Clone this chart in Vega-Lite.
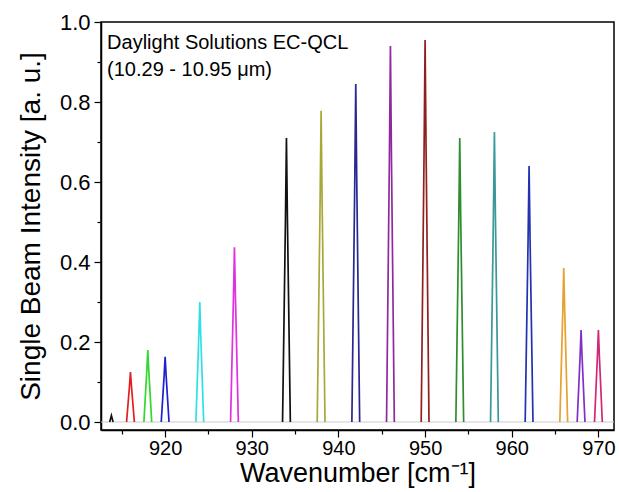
{
  "$schema": "https://vega.github.io/schema/vega-lite/v6.json",
  "width": 513,
  "height": 408,
  "autosize": {"type": "none"},
  "padding": {"left": 101, "top": 22, "right": 5, "bottom": 62},
  "background": "white",
  "config": {
    "view": {"stroke": "black", "strokeWidth": 1.5},
    "font": "Liberation Sans",
    "axis": {"domainColor": "black", "tickColor": "black", "labelColor": "black", "titleColor": "black", "grid": false, "domainWidth": 1.5, "tickWidth": 1.2, "titleFontWeight": "normal", "labelFont": "Liberation Sans", "titleFont": "Liberation Sans"}
  },
  "datasets": {
    "peaks": [
      {"s": "p914", "x": 913.6, "y": 0},
      {"s": "p914", "x": 913.8, "y": 0.016},
      {"s": "p914", "x": 914.0, "y": 0},
      {"s": "p916", "x": 915.55, "y": 0},
      {"s": "p916", "x": 915.88, "y": 0.088},
      {"s": "p916", "x": 916, "y": 0.125},
      {"s": "p916", "x": 916.12, "y": 0.088},
      {"s": "p916", "x": 916.45, "y": 0},
      {"s": "p918", "x": 917.55, "y": 0},
      {"s": "p918", "x": 917.88, "y": 0.126},
      {"s": "p918", "x": 918, "y": 0.18},
      {"s": "p918", "x": 918.12, "y": 0.126},
      {"s": "p918", "x": 918.45, "y": 0},
      {"s": "p920", "x": 919.55, "y": 0},
      {"s": "p920", "x": 919.88, "y": 0.114},
      {"s": "p920", "x": 920, "y": 0.163},
      {"s": "p920", "x": 920.12, "y": 0.114},
      {"s": "p920", "x": 920.45, "y": 0},
      {"s": "p924", "x": 923.55, "y": 0},
      {"s": "p924", "x": 923.88, "y": 0.21},
      {"s": "p924", "x": 924, "y": 0.30},
      {"s": "p924", "x": 924.12, "y": 0.21},
      {"s": "p924", "x": 924.45, "y": 0},
      {"s": "p928", "x": 927.55, "y": 0},
      {"s": "p928", "x": 927.88, "y": 0.306},
      {"s": "p928", "x": 928, "y": 0.437},
      {"s": "p928", "x": 928.12, "y": 0.306},
      {"s": "p928", "x": 928.45, "y": 0},
      {"s": "p934", "x": 933.55, "y": 0},
      {"s": "p934", "x": 933.88, "y": 0.497},
      {"s": "p934", "x": 934, "y": 0.71},
      {"s": "p934", "x": 934.12, "y": 0.497},
      {"s": "p934", "x": 934.45, "y": 0},
      {"s": "p938", "x": 937.55, "y": 0},
      {"s": "p938", "x": 937.88, "y": 0.545},
      {"s": "p938", "x": 938, "y": 0.778},
      {"s": "p938", "x": 938.12, "y": 0.545},
      {"s": "p938", "x": 938.45, "y": 0},
      {"s": "p942", "x": 941.55, "y": 0},
      {"s": "p942", "x": 941.88, "y": 0.592},
      {"s": "p942", "x": 942, "y": 0.845},
      {"s": "p942", "x": 942.12, "y": 0.592},
      {"s": "p942", "x": 942.45, "y": 0},
      {"s": "p946", "x": 945.55, "y": 0},
      {"s": "p946", "x": 945.88, "y": 0.658},
      {"s": "p946", "x": 946, "y": 0.94},
      {"s": "p946", "x": 946.12, "y": 0.658},
      {"s": "p946", "x": 946.45, "y": 0},
      {"s": "p950", "x": 949.55, "y": 0},
      {"s": "p950", "x": 949.88, "y": 0.669},
      {"s": "p950", "x": 950, "y": 0.955},
      {"s": "p950", "x": 950.12, "y": 0.669},
      {"s": "p950", "x": 950.45, "y": 0},
      {"s": "p954", "x": 953.55, "y": 0},
      {"s": "p954", "x": 953.88, "y": 0.497},
      {"s": "p954", "x": 954, "y": 0.71},
      {"s": "p954", "x": 954.12, "y": 0.497},
      {"s": "p954", "x": 954.45, "y": 0},
      {"s": "p958", "x": 957.55, "y": 0},
      {"s": "p958", "x": 957.88, "y": 0.508},
      {"s": "p958", "x": 958, "y": 0.725},
      {"s": "p958", "x": 958.12, "y": 0.508},
      {"s": "p958", "x": 958.45, "y": 0},
      {"s": "p962", "x": 961.55, "y": 0},
      {"s": "p962", "x": 961.88, "y": 0.448},
      {"s": "p962", "x": 962, "y": 0.64},
      {"s": "p962", "x": 962.12, "y": 0.448},
      {"s": "p962", "x": 962.45, "y": 0},
      {"s": "p966", "x": 965.55, "y": 0},
      {"s": "p966", "x": 965.88, "y": 0.27},
      {"s": "p966", "x": 966, "y": 0.385},
      {"s": "p966", "x": 966.12, "y": 0.27},
      {"s": "p966", "x": 966.45, "y": 0},
      {"s": "p968", "x": 967.55, "y": 0},
      {"s": "p968", "x": 967.88, "y": 0.161},
      {"s": "p968", "x": 968, "y": 0.23},
      {"s": "p968", "x": 968.12, "y": 0.161},
      {"s": "p968", "x": 968.45, "y": 0},
      {"s": "p970", "x": 969.55, "y": 0},
      {"s": "p970", "x": 969.88, "y": 0.161},
      {"s": "p970", "x": 970, "y": 0.23},
      {"s": "p970", "x": 970.12, "y": 0.161},
      {"s": "p970", "x": 970.45, "y": 0}
    ],
    "base": [
      {"x": 912.6, "y": 0},
      {"x": 971.8, "y": 0}
    ],
    "note": [
      {"x": 913.3, "y": 0.972, "t": "Daylight Solutions EC-QCL"},
      {"x": 913.3, "y": 0.905, "t": "(10.29 - 10.95 μm)"}
    ]
  },
  "layer": [
    {
      "data": {"name": "base"},
      "mark": {"type": "line", "color": "#cccccc", "strokeWidth": 1.2},
      "encoding": {
        "x": {"field": "x", "type": "quantitative", "scale": {"domain": [912.6, 971.8], "nice": false, "zero": false},
          "axis": {"orient": "bottom", "values": [915, 920, 925, 930, 935, 940, 945, 950, 955, 960, 965, 970],
            "labelExpr": "datum.value % 10 === 0 ? datum.label : ''",
            "tickSize": {"condition": {"test": "datum.value % 10 === 0", "value": 7}, "value": 4},
            "labelFontSize": 20, "labelPadding": 1, "title": "Wavenumber [cm⁻¹]", "titleFontSize": 27, "titlePadding": 2}},
        "y": {"field": "y", "type": "quantitative", "scale": {"domain": [-0.02, 1.0], "nice": false, "zero": false},
          "axis": {"orient": "left", "values": [0, 0.1, 0.2, 0.3, 0.4, 0.5, 0.6, 0.7, 0.8, 0.9, 1.0], "format": ".1f",
            "labelExpr": "round(datum.value * 10) % 2 === 0 ? datum.label : ''",
            "tickSize": {"condition": {"test": "round(datum.value * 10) % 2 === 0", "value": 7}, "value": 4},
            "labelFontSize": 22, "labelPadding": 4, "title": "Single Beam Intensity [a. u.]", "titleFontSize": 28, "titlePadding": 14}}
      }
    },
    {
      "data": {"name": "peaks"},
      "mark": {"type": "line", "strokeWidth": 1.7},
      "encoding": {
        "x": {"field": "x", "type": "quantitative"},
        "y": {"field": "y", "type": "quantitative"},
        "color": {"field": "s", "type": "nominal", "legend": null,
          "scale": {"domain": ["p914", "p916", "p918", "p920", "p924", "p928", "p934", "p938", "p942", "p946", "p950", "p954", "p958", "p962", "p966", "p970", "p968"],
            "range": ["#111111", "#e02020", "#30d830", "#2020d0", "#30e0e8", "#e030e0", "#111111", "#a8a838", "#282890", "#8e2a9e", "#902020", "#2e8e2e", "#3a9898", "#2232b0", "#e8a030", "#d02878", "#8030c8"]}}
      }
    },
    {
      "data": {"name": "note"},
      "mark": {"type": "text", "align": "left", "baseline": "top", "fontSize": 20, "font": "Liberation Sans", "color": "black"},
      "encoding": {
        "x": {"field": "x", "type": "quantitative"},
        "y": {"field": "y", "type": "quantitative"},
        "text": {"field": "t", "type": "nominal"}
      }
    }
  ]
}
